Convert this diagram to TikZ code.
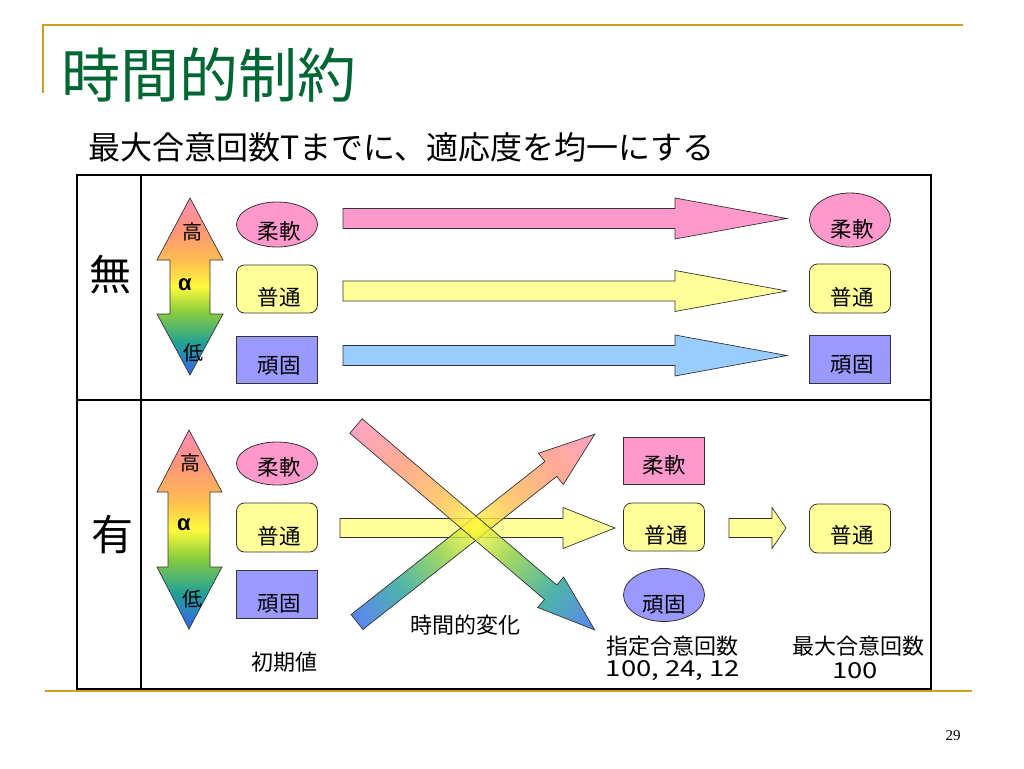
\documentclass[tikz,border=0pt]{standalone}
\usepackage{fontspec}
\setmainfont{Liberation Sans}
\newfontfamily\jp{Noto Sans CJK JP}
\newfontfamily\serifpn{Liberation Serif}
\usetikzlibrary{shapes.geometric}
\definecolor{gold}{RGB}{204,160,30}
\definecolor{ttlgreen}{RGB}{0,102,51}
\definecolor{pinkf}{RGB}{255,153,204}
\definecolor{yellowf}{RGB}{255,255,153}
\definecolor{violetf}{RGB}{153,153,255}
\definecolor{lblue}{RGB}{153,204,255}
\definecolor{rbBlue}{RGB}{51,102,238}
\definecolor{rbTeal}{RGB}{34,160,150}
\definecolor{rbGreen}{RGB}{140,205,60}
\definecolor{rbYellow}{RGB}{255,250,60}
\definecolor{rbOrange}{RGB}{255,190,80}
\definecolor{rbSalmon}{RGB}{255,150,120}
\definecolor{rbPink}{RGB}{255,140,180}
\pgfdeclareverticalshading{rainbow}{100bp}{color(0bp)=(rbBlue); color(25bp)=(rbBlue); color(34bp)=(rbTeal); color(43bp)=(rbGreen); color(50bp)=(rbYellow); color(57bp)=(rbOrange); color(66bp)=(rbSalmon); color(75bp)=(rbPink); color(100bp)=(rbPink)}
\newcommand{\harrow}[6]{% style, x0, xbase, xtip, yc, shaft half
  \draw[#1] (#2,#5-#6) -- (#3,#5-#6) -- (#3,#5-20.5) -- (#4,#5) -- (#3,#5+20.5) -- (#3,#5+#6) -- (#2,#5+#6) -- cycle;}
\newcommand{\widenum}[1]{\scalebox{1.25}[1]{#1}}
\begin{document}
\begin{tikzpicture}[x=1pt,y=-1pt,
  goldline/.style={gold, line width=2pt},
  tabline/.style={black, line width=1.2pt},
  lbl/.style={font=\jp\fontsize{21.5}{21.5}\selectfont, inner sep=0pt},
  hl/.style={font=\jp\fontsize{20}{20}\selectfont, inner sep=0pt},
  bigtxt/.style={font=\jp\fontsize{42}{42}\selectfont},
  captxt/.style={font=\jp\fontsize{22}{22}\selectfont, inner sep=0pt},
  shp/.style={draw=black!80, line width=0.8pt, minimum width=81pt, inner sep=0pt},
  ell/.style={shp, ellipse},
  rbox/.style={shp, rectangle, rounded corners=8pt, fill=yellowf},
  sbox/.style={shp, rectangle},
  barrow/.style={draw=black!80, line width=0.7pt},
  dbl/.style={draw=black!80, line width=0.7pt, shade, shading=rainbow},
  alphatxt/.style={font=\bfseries\fontsize{22}{22}\selectfont, inner sep=0pt}
]
\useasboundingbox (0,0) rectangle (1024,768);
% frame lines
\draw[goldline] (43,25) -- (963,25);
\draw[goldline] (43,24) -- (43,93);
\draw[goldline] (45,691) -- (972,691);
% titles
\node[anchor=west, text=ttlgreen, font=\jp\fontsize{59}{59}\selectfont, inner sep=0pt] (title) at (61,75) {時間的制約};
\node[anchor=west, font=\jp\fontsize{32}{32}\selectfont, inner sep=0pt] (sub) at (88,147) {最大合意回数Tまでに、適応度を均一にする};
% table
\draw[tabline] (77,175) rectangle (931,689);
\draw[tabline] (141,175) -- (141,689);
\draw[black, line width=1.6pt] (77,400) -- (931,400);
\node[bigtxt] (mu) at (110,275) {無};
\node[bigtxt] (yu) at (112,535) {有};

% ---------- upper panel ----------
\path[dbl] (190,198) -- (223,260) -- (210,260) -- (210,314) -- (223,314) -- (190,375) -- (157,314) -- (170,314) -- (170,260) -- (157,260) -- cycle;
\node[hl] (hi1) at (192,232) {高};
\node[alphatxt] (al1) at (185,285) {α};
\node[hl] (lo1) at (193,353) {低};

\node[ell, fill=pinkf, minimum height=45pt] (uflex) at (277,224.5) {};
\node[rbox, minimum height=48pt] (unorm) at (277,289) {};
\node[sbox, fill=violetf, minimum height=47pt] (ustub) at (277,359.5) {};
\node[lbl] at ([xshift=2pt,yshift=-7pt]uflex.center) {柔軟};
\node[lbl] at ([xshift=2pt,yshift=-8pt]unorm.center) {普通};
\node[lbl] at ([xshift=2pt,yshift=-6pt]ustub.center) {頑固};

\harrow{barrow, fill=pinkf}{343}{675}{787}{218.5}{10}
\harrow{barrow, fill=yellowf}{343}{675}{787}{291}{10}
\harrow{barrow, fill=lblue}{343}{675}{787}{355.5}{10}

\node[ell, fill=pinkf, minimum height=54pt] (rflex) at (850,220) {};
\node[rbox, minimum height=49pt] (rnorm) at (850,288.5) {};
\node[sbox, fill=violetf, minimum height=48pt] (rstub) at (850,359) {};
\node[lbl] at ([xshift=2pt,yshift=-9pt]rflex.center) {柔軟};
\node[lbl] at ([xshift=2pt,yshift=-9pt]rnorm.center) {普通};
\node[lbl] at ([xshift=2pt,yshift=-6pt]rstub.center) {頑固};

% ---------- lower panel ----------
\path[dbl] (189,430) -- (222,492) -- (210,492) -- (210,567) -- (222,567) -- (189,629) -- (157,567) -- (168,567) -- (168,492) -- (157,492) -- cycle;
\node[hl] (hi2) at (190,463) {高};
\node[alphatxt] (al2) at (184,525) {α};
\node[hl] (lo2) at (192,599) {低};

\node[ell, fill=pinkf, minimum height=43pt] (lflex) at (277,463.5) {};
\node[rbox, minimum height=49pt] (lnorm) at (277,527.5) {};
\node[sbox, fill=violetf, minimum height=48pt] (lstub) at (277,594) {};
\node[lbl] at ([xshift=2pt,yshift=-4pt]lflex.center) {柔軟};
\node[lbl] at ([xshift=2pt,yshift=-9pt]lnorm.center) {普通};
\node[lbl] at ([xshift=2pt,yshift=-10pt]lstub.center) {頑固};
\node[captxt] (init) at (284,662) {初期値};

% horizontal yellow arrow
\harrow{barrow, fill=yellowf}{340}{563}{615}{528}{9.5}

% diagonal arrows
\begin{scope}[transform canvas={shift={(357,622)},rotate=38.3}]
\path[draw=black!80, line width=0.7pt, shade, shading=rainbow, shading angle=-90, fill opacity=0.8]
  (0,-9.5) -- (247,-9.5) -- (247,-20) -- (303,0) -- (247,20) -- (247,9.5) -- (0,9.5) -- cycle;
\end{scope}
\begin{scope}[transform canvas={shift={(356,426)},rotate=-40.5}]
\path[draw=black!80, line width=0.7pt, shade, shading=rainbow, shading angle=90, fill opacity=0.8]
  (0,-9.5) -- (256,-9.5) -- (256,-20) -- (314,0) -- (256,20) -- (256,9.5) -- (0,9.5) -- cycle;
\end{scope}
\node[captxt] (chg) at (465,625) {時間的変化};

% right column lower
\node[sbox, fill=pinkf, minimum height=47pt] (pflex) at (664,460.5) {};
\node[rbox, minimum height=48pt] (pnorm) at (664,527) {};
\node[ell, fill=violetf, minimum height=53pt] (pstub) at (664,595) {};
\node[lbl] at ([xshift=0pt,yshift=-5pt]pflex.center) {柔軟};
\node[lbl] at ([xshift=2pt,yshift=-8pt]pnorm.center) {普通};
\node[lbl] at ([xshift=0pt,yshift=-10pt]pstub.center) {頑固};

\harrow{barrow, fill=yellowf}{729}{772}{786}{528}{9.5}

\node[rbox, minimum height=49pt] (mnorm) at (850,528.5) {};
\node[lbl] at ([xshift=2pt,yshift=-7pt]mnorm.center) {普通};

\node[captxt] (spec) at (672,646) {指定合意回数};
\node[captxt] (specn) at (673,671) {\widenum{100,\ 24,\ 12}};
\node[captxt] (maxc) at (858,646) {最大合意回数};
\node[captxt] (maxn) at (855,671) {\widenum{100}};

\node[font=\serifpn\fontsize{15}{15}\selectfont] (pg) at (953,736) {29};
\end{tikzpicture}
\end{document}
